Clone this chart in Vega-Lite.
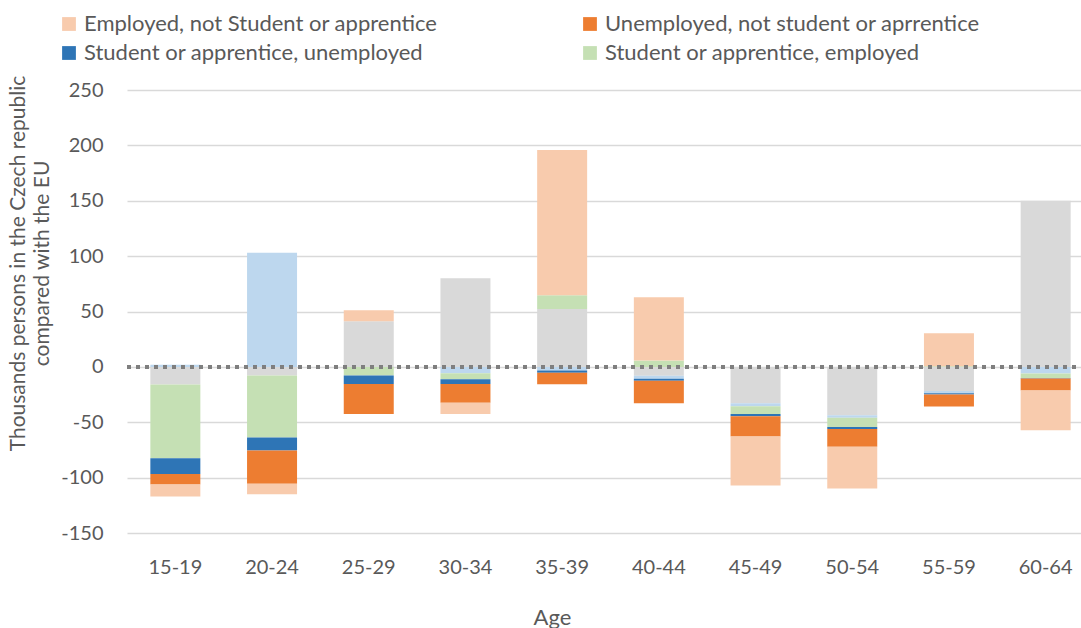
{
  "$schema": "https://vega.github.io/schema/vega-lite/v6.json",
  "width": 967,
  "height": 443,
  "autosize": {"type": "none"},
  "padding": {"left": 127, "top": 90, "right": 0, "bottom": 95},
  "background": "white",
  "config": {
    "font": "Lato",
    "view": {"stroke": null},
    "axis": {"labelFont": "Lato", "titleFont": "Lato"}
  },
  "data": {
    "values": [
      {"age": "15-19", "series": "Inactive, not student or apprentice", "value": -16},
      {"age": "15-19", "series": "Student or apprentice, inactive", "value": 2},
      {"age": "15-19", "series": "Student or apprentice, employed", "value": -66.5},
      {"age": "15-19", "series": "Student or apprentice, unemployed", "value": -14.3},
      {"age": "15-19", "series": "Unemployed, not student or aprrentice", "value": -9.5},
      {"age": "15-19", "series": "Employed, not Student or apprentice", "value": -10.7},
      {"age": "20-24", "series": "Inactive, not student or apprentice", "value": -7.8},
      {"age": "20-24", "series": "Student or apprentice, inactive", "value": 103},
      {"age": "20-24", "series": "Student or apprentice, employed", "value": -56},
      {"age": "20-24", "series": "Student or apprentice, unemployed", "value": -11.7},
      {"age": "20-24", "series": "Unemployed, not student or aprrentice", "value": -30},
      {"age": "20-24", "series": "Employed, not Student or apprentice", "value": -9.6},
      {"age": "25-29", "series": "Inactive, not student or apprentice", "value": 41.2},
      {"age": "25-29", "series": "Student or apprentice, inactive", "value": 0},
      {"age": "25-29", "series": "Student or apprentice, employed", "value": -7.8},
      {"age": "25-29", "series": "Student or apprentice, unemployed", "value": -7.6},
      {"age": "25-29", "series": "Unemployed, not student or aprrentice", "value": -27.1},
      {"age": "25-29", "series": "Employed, not Student or apprentice", "value": 10},
      {"age": "30-34", "series": "Inactive, not student or apprentice", "value": 80},
      {"age": "30-34", "series": "Student or apprentice, inactive", "value": -5.7},
      {"age": "30-34", "series": "Student or apprentice, employed", "value": -5.4},
      {"age": "30-34", "series": "Student or apprentice, unemployed", "value": -4.3},
      {"age": "30-34", "series": "Unemployed, not student or aprrentice", "value": -17.1},
      {"age": "30-34", "series": "Employed, not Student or apprentice", "value": -10},
      {"age": "35-39", "series": "Inactive, not student or apprentice", "value": 52.3},
      {"age": "35-39", "series": "Student or apprentice, inactive", "value": -3.3},
      {"age": "35-39", "series": "Student or apprentice, employed", "value": 12.4},
      {"age": "35-39", "series": "Student or apprentice, unemployed", "value": -2.1},
      {"age": "35-39", "series": "Unemployed, not student or aprrentice", "value": -10.2},
      {"age": "35-39", "series": "Employed, not Student or apprentice", "value": 131.1},
      {"age": "40-44", "series": "Inactive, not student or apprentice", "value": -8.1},
      {"age": "40-44", "series": "Student or apprentice, inactive", "value": -2.7},
      {"age": "40-44", "series": "Student or apprentice, employed", "value": 5.7},
      {"age": "40-44", "series": "Student or apprentice, unemployed", "value": -1.8},
      {"age": "40-44", "series": "Unemployed, not student or aprrentice", "value": -20.2},
      {"age": "40-44", "series": "Employed, not Student or apprentice", "value": 57.2},
      {"age": "45-49", "series": "Inactive, not student or apprentice", "value": -32.8},
      {"age": "45-49", "series": "Student or apprentice, inactive", "value": -2.7},
      {"age": "45-49", "series": "Student or apprentice, employed", "value": -7},
      {"age": "45-49", "series": "Student or apprentice, unemployed", "value": -2},
      {"age": "45-49", "series": "Unemployed, not student or aprrentice", "value": -18.4},
      {"age": "45-49", "series": "Employed, not Student or apprentice", "value": -44.2},
      {"age": "50-54", "series": "Inactive, not student or apprentice", "value": -43.6},
      {"age": "50-54", "series": "Student or apprentice, inactive", "value": -2.4},
      {"age": "50-54", "series": "Student or apprentice, employed", "value": -8.2},
      {"age": "50-54", "series": "Student or apprentice, unemployed", "value": -1.8},
      {"age": "50-54", "series": "Unemployed, not student or aprrentice", "value": -16.2},
      {"age": "50-54", "series": "Employed, not Student or apprentice", "value": -37.6},
      {"age": "55-59", "series": "Inactive, not student or apprentice", "value": -21.7},
      {"age": "55-59", "series": "Student or apprentice, inactive", "value": -2.1},
      {"age": "55-59", "series": "Student or apprentice, employed", "value": 0.5},
      {"age": "55-59", "series": "Student or apprentice, unemployed", "value": -1.2},
      {"age": "55-59", "series": "Unemployed, not student or aprrentice", "value": -10.8},
      {"age": "55-59", "series": "Employed, not Student or apprentice", "value": 29.9},
      {"age": "60-64", "series": "Inactive, not student or apprentice", "value": 150},
      {"age": "60-64", "series": "Student or apprentice, inactive", "value": -6},
      {"age": "60-64", "series": "Student or apprentice, employed", "value": -4},
      {"age": "60-64", "series": "Student or apprentice, unemployed", "value": -0.4},
      {"age": "60-64", "series": "Unemployed, not student or aprrentice", "value": -11},
      {"age": "60-64", "series": "Employed, not Student or apprentice", "value": -35.9}
    ]
  },
  "layer": [
    {
      "transform": [
        {
          "calculate": "indexof(['Inactive, not student or apprentice', 'Student or apprentice, inactive', 'Student or apprentice, employed', 'Student or apprentice, unemployed', 'Unemployed, not student or aprrentice', 'Employed, not Student or apprentice'], datum.series)",
          "as": "stackOrder"
        }
      ],
      "mark": {"type": "bar"},
      "encoding": {
        "x": {
          "field": "age",
          "type": "nominal",
          "sort": null,
          "scale": {"paddingInner": 0.483, "paddingOuter": 0.2415},
          "axis": {
            "title": "Age",
            "labelAngle": 0,
            "labelFontSize": 20,
            "labelColor": "#595959",
            "labelPadding": 24,
            "ticks": false,
            "tickSize": 0,
            "domain": false,
            "titleFontSize": 22,
            "titleFontWeight": "normal",
            "titleColor": "#595959",
            "titleX": 425,
            "titleY": 91,
            "titleBaseline": "alphabetic",
            "titleAlign": "center"
          }
        },
        "y": {
          "field": "value",
          "type": "quantitative",
          "stack": "zero",
          "scale": {"domain": [-150, 250], "nice": false, "zero": false},
          "axis": {
            "values": [-150, -100, -50, 0, 50, 100, 150, 200, 250],
            "labelExpr": "'' + datum.value",
            "title": ["Thousands persons in the Czech republic", "compared with the  EU"],
            "labelFontSize": 20,
            "labelColor": "#595959",
            "labelPadding": 24,
            "ticks": false,
            "tickSize": 0,
            "domain": false,
            "grid": true,
            "gridColor": "#D9D9D9",
            "gridWidth": 1.5,
            "titleFontSize": 21,
            "titleFontWeight": "normal",
            "titleColor": "#595959",
            "titleAngle": -90,
            "titleAlign": "center",
            "titleBaseline": "middle",
            "titleLineHeight": 24,
            "titleX": -109,
            "titleY": 173
          }
        },
        "color": {
          "field": "series",
          "type": "nominal",
          "scale": {
            "domain": [
              "Inactive, not student or apprentice",
              "Student or apprentice, inactive",
              "Student or apprentice, employed",
              "Student or apprentice, unemployed",
              "Unemployed, not student or aprrentice",
              "Employed, not Student or apprentice"
            ],
            "range": ["#D9D9D9", "#BDD7EE", "#C5E0B4", "#2E75B6", "#ED7D31", "#F8CBAD"]
          },
          "legend": {
            "values": [
              "Employed, not Student or apprentice",
              "Unemployed, not student or aprrentice",
              "Student or apprentice, unemployed",
              "Student or apprentice, employed"
            ],
            "title": null,
            "orient": "none",
            "legendX": -69,
            "legendY": -77,
            "direction": "horizontal",
            "columns": 2,
            "columnPadding": 141,
            "rowPadding": 7,
            "symbolType": "square",
            "symbolSize": 190,
            "symbolStrokeWidth": 0,
            "symbolOpacity": 1,
            "labelFontSize": 22,
            "labelColor": "#595959",
            "labelOffset": 4,
            "labelLimit": 600
          }
        },
        "order": {"field": "stackOrder", "type": "quantitative", "sort": "ascending"}
      }
    },
    {
      "mark": {"type": "rule", "color": "#7F7F7F", "strokeWidth": 3.5, "strokeDash": [4, 5]},
      "encoding": {"y": {"datum": 0}}
    }
  ]
}
